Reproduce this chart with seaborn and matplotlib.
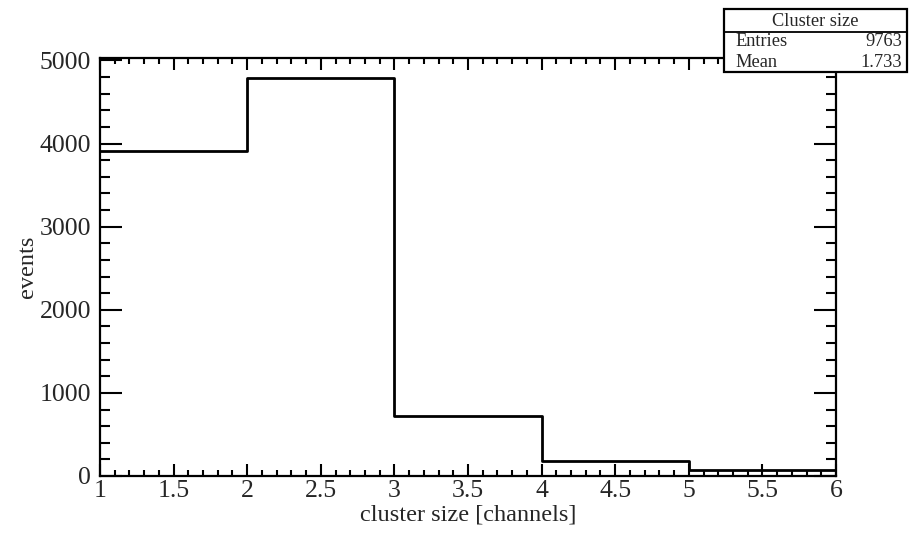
import matplotlib
matplotlib.use("Agg")
import matplotlib.pyplot as plt
from matplotlib.patches import Rectangle
from matplotlib.lines import Line2D
from matplotlib.ticker import MultipleLocator, FormatStrFormatter
import seaborn as sns

# Cluster sizes (integer number of channels) and how often each occurred
cluster_size = [1, 2, 3, 4, 5]
counts = [3905, 4785, 725, 185, 75]
bin_edges = [1, 2, 3, 4, 5, 6]

# Statistics box contents
stats_title = "Cluster size"
stats_names = ["Entries", "Mean"]
stats_values = ["9763", "1.733"]

sns.set_style("white")
plt.rcParams["font.family"] = ["Liberation Serif", "DejaVu Serif"]

W, H = 914, 533
fig = plt.figure(figsize=(W / 100, H / 100), dpi=100)
ax = fig.add_axes([100 / W, 1 - 476 / H, (836 - 100) / W, (476 - 58) / H])

sns.histplot(x=cluster_size, weights=counts, bins=bin_edges, element="step",
             fill=False, color="black", linewidth=2.0, ax=ax)

ax.set_xlim(1, 6)
ax.set_ylim(0, 5030)

for s in ax.spines.values():
    s.set_linewidth(1.6)
    s.set_color("black")

ax.xaxis.set_major_locator(MultipleLocator(0.5))
ax.xaxis.set_minor_locator(MultipleLocator(0.1))
ax.yaxis.set_major_locator(MultipleLocator(1000))
ax.yaxis.set_minor_locator(MultipleLocator(200))
ax.xaxis.set_major_formatter(FormatStrFormatter("%g"))
ax.yaxis.set_major_formatter(FormatStrFormatter("%g"))

ax.tick_params(axis="x", which="major", direction="in", length=8.5, width=1.5,
               top=True, bottom=True, labelsize=18.5, pad=3, color="black")
ax.tick_params(axis="x", which="minor", direction="in", length=4.3, width=1.5,
               top=True, bottom=True, color="black")
ax.tick_params(axis="y", which="major", direction="in", length=15.5, width=1.5,
               left=True, right=True, labelsize=18.5, pad=6.5, color="black")
ax.tick_params(axis="y", which="minor", direction="in", length=7.2, width=1.5,
               left=True, right=True, color="black")

ax.set_xlabel("cluster size [channels]", fontsize=17.5)
ax.xaxis.set_label_coords(0.5, (476 - 515) / 418)
ax.xaxis.label.set_va("center")
ax.set_ylabel("events", fontsize=17.5)
ax.yaxis.set_label_coords((28 - 100) / 736, 0.5)
ax.yaxis.label.set_va("center")

# Statistics box in the top-right corner, drawn in pixel positions of the figure
def fx(px):
    return px / W

def fy(py):
    return 1 - py / H

x0, x1, y0, y1 = 724, 907, 9, 72
fig.add_artist(Rectangle((fx(x0), fy(y1)), fx(x1) - fx(x0), fy(y0) - fy(y1),
                         transform=fig.transFigure, facecolor="white",
                         edgecolor="black", linewidth=1.6, zorder=10))
fig.add_artist(Line2D([fx(x0), fx(x1)], [fy(31.5), fy(31.5)],
                      transform=fig.transFigure, color="black", linewidth=1.3,
                      zorder=11))
fig.text(fx((x0 + x1) / 2), fy(21), stats_title, ha="center", va="center",
         fontsize=13.2, zorder=12)
for i, (name, val) in enumerate(zip(stats_names, stats_values)):
    yc = fy(42 + 20.5 * i)
    fig.text(fx(735), yc, name, ha="left", va="center", fontsize=13.2, zorder=12)
    fig.text(fx(902), yc, val, ha="right", va="center", fontsize=13.2, zorder=12)

fig.savefig("out.png", dpi=100)
